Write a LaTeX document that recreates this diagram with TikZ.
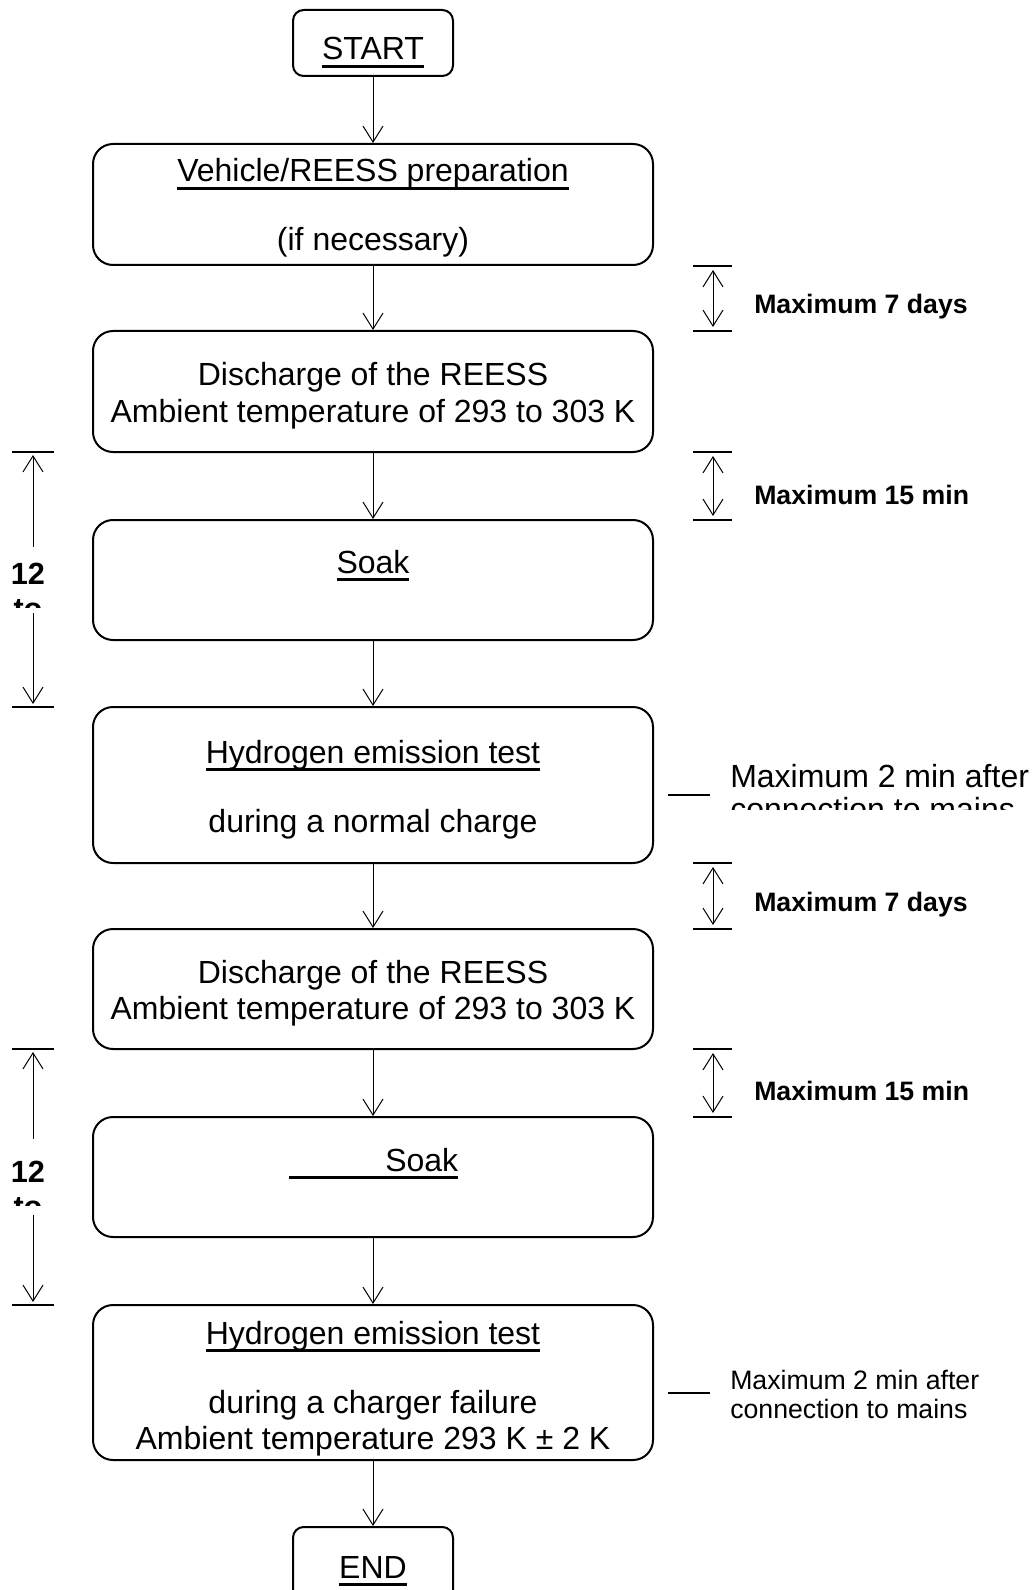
\documentclass[tikz,border=0pt]{standalone}
\usepackage{fontspec}
\setmainfont{Liberation Sans}
\usetikzlibrary{arrows.meta,fit}
\newcommand\myul[1]{\setbox0\hbox{#1}\rlap{\rule[-5.8pt]{\wd0}{1.8pt}}\box0}
\begin{document}
\begin{tikzpicture}[x=0.75pt,y=-0.75pt,
  box/.style={draw, line width=1.5pt, rounded corners=15pt, inner sep=0pt},
  sbox/.style={draw, line width=1.5pt, rounded corners=8pt, inner sep=0pt},
  txt/.style={font=\fontsize{24}{28}\selectfont, anchor=base, inner sep=0pt},
  btxt/.style={font=\fontsize{20}{23}\selectfont\bfseries, anchor=base west, inner sep=0pt},
  ltxt/.style={font=\fontsize{23}{26}\selectfont\bfseries, anchor=base, inner sep=0pt},
  stxt/.style={font=\fontsize{20}{24}\selectfont, anchor=base west, inner sep=0pt},
  arr/.style={line width=0.75pt, -{Straight Barb[length=12pt,width=15pt]}},
  darr/.style={line width=0.75pt, {Straight Barb[length=12pt,width=15pt]}-{Straight Barb[length=12pt,width=15pt]}},
  tick/.style={line width=1.5pt}]
\useasboundingbox (0,0) rectangle (1035,1590);

% boxes
\node[sbox, fit={(293,10)(453,76)}] (start) {};
\node[box, fit={(93,144)(653,265)}] (b1) {};
\node[box, fit={(93,331)(653,452)}] (b2) {};
\node[box, fit={(93,520)(653,640)}] (b3) {};
\node[box, fit={(93,707)(653,863)}] (b4) {};
\node[box, fit={(93,929)(653,1049)}] (b5) {};
\node[box, fit={(93,1117)(653,1237)}] (b6) {};
\node[box, fit={(93,1305)(653,1460)}] (b7) {};
\begin{scope}
\clip (250,1500) rectangle (500,1590);
\node[sbox, fit={(293,1527)(453,1640)}] (end) {};
\end{scope}

% texts
\node[txt] (tstart) at (373,60) {\myul{START}};
\node[txt] (t1a) at (373,182) {\myul{Vehicle/REESS preparation}};
\node[txt] (t1b) at (373,251) {(if necessary)};
\node[txt] (t2a) at (373,386) {Discharge of the REESS};
\node[txt] (t2b) at (373,422) {Ambient temperature of 293 to 303 K};
\node[txt] (t3) at (373,573) {\myul{Soak}};
\node[txt] (t4a) at (373,763) {\myul{Hydrogen emission test}};
\node[txt] (t4b) at (373,832) {during a normal charge};
\node[txt] (t5a) at (373,983) {Discharge of the REESS};
\node[txt] (t5b) at (373,1019) {Ambient temperature of 293 to 303 K};
\node[txt, anchor=base west] (t6) at (289,1171) {\myul{\hspace*{72pt}Soak}};
\node[txt] (t7a) at (373,1344) {\myul{Hydrogen emission test}};
\node[txt] (t7b) at (373,1413) {during a charger failure};
\node[txt] (t7c) at (373,1449) {Ambient temperature 293 K ± 2 K};
\node[txt] (tend) at (373,1578) {\myul{END}};

% main connectors
\draw[arr] (start.south) -- (b1.north);
\draw[arr] (b1.south) -- (b2.north);
\draw[arr] (b2.south) -- (b3.north);
\draw[arr] (b3.south) -- (b4.north);
\draw[arr] (b4.south) -- (b5.north);
\draw[arr] (b5.south) -- (b6.north);
\draw[arr] (b6.south) -- (b7.north);
\draw[arr] (b7.south) -- (end.north);

% right markers
\foreach \n/\ya/\yb/\yt/\lab in {m1/266/331/314/Maximum 7 days, m2/452/520/504/Maximum 15 min, m3/863/929/911/Maximum 7 days, m4/1049/1117/1100/Maximum 15 min}{
  \coordinate (\n a1) at (693,\ya); \coordinate (\n a2) at (732,\ya);
  \coordinate (\n b1) at (693,\yb); \coordinate (\n b2) at (732,\yb);
  \coordinate (\n u) at (713,\ya+4); \coordinate (\n d) at (713,\yb-4);
  \draw[tick] (\n a1) -- (\n a2);
  \draw[tick] (\n b1) -- (\n b2);
  \draw[darr] (\n u) -- (\n d);
  \node[btxt] (\n t) at (754,\yt) {\lab};
}

% left markers
\foreach \n/\ya/\yb/\ys/\ye/\yt in {l1/452/707/547/613/584, l2/1049/1305/1139/1215/1182}{
  \coordinate (\n a1) at (12,\ya); \coordinate (\n a2) at (54,\ya);
  \coordinate (\n b1) at (12,\yb); \coordinate (\n b2) at (54,\yb);
  \coordinate (\n s) at (33,\ys); \coordinate (\n e) at (33,\ye);
  \coordinate (\n u) at (33,\ya+3); \coordinate (\n d) at (33,\yb-3);
  \draw[tick] (\n a1) -- (\n a2);
  \draw[tick] (\n b1) -- (\n b2);
  \draw[arr] (\n s) -- (\n u);
  \draw[arr] (\n e) -- (\n d);
  \node[ltxt] (\n t) at (28,\yt) {12};
  \begin{scope}
    \clip (0,\yt+5) rectangle (80,\yt+23);
    \node[ltxt] (\n to) at (28,\yt+35) {to};
  \end{scope}
}

% right notes
\coordinate (n1a) at (668,795); \coordinate (n1b) at (710,795);
\draw[tick] (n1a) -- (n1b);
\node[txt, anchor=base west] (n1t) at (730,787) {Maximum 2 min after};
\begin{scope}
  \clip (700,795) rectangle (1035,809);
  \node[txt, anchor=base west] (n1u) at (730,820) {connection to mains};
\end{scope}
\coordinate (n2a) at (668,1393); \coordinate (n2b) at (710,1393);
\draw[tick] (n2a) -- (n2b);
\node[stxt] (n2t) at (730,1389) {Maximum 2 min after};
\node[stxt] (n2u) at (730,1418) {connection to mains};
\end{tikzpicture}
\end{document}
